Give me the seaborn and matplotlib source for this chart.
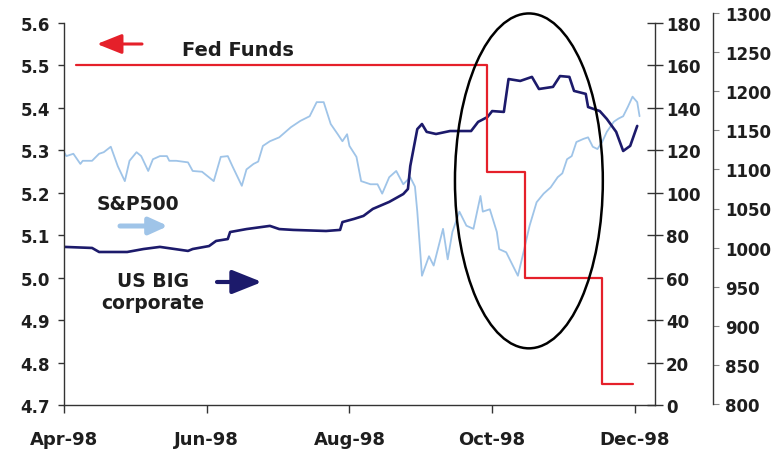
import numpy as np
import pandas as pd
import matplotlib
matplotlib.use("Agg")
import matplotlib.pyplot as plt
import matplotlib.dates as mdates
from matplotlib.patches import Ellipse
import seaborn as sns

# S&P 500 index level (outer right axis)
sp_dates = [
    "1998-04-01", "1998-04-02", "1998-04-05", "1998-04-08", "1998-04-09", "1998-04-13",
    "1998-04-16", "1998-04-18", "1998-04-21", "1998-04-24", "1998-04-27", "1998-04-29",
    "1998-05-02", "1998-05-04", "1998-05-07", "1998-05-09", "1998-05-12", "1998-05-15",
    "1998-05-16", "1998-05-19", "1998-05-24", "1998-05-26", "1998-05-30", "1998-06-04",
    "1998-06-07", "1998-06-10", "1998-06-12", "1998-06-16", "1998-06-18", "1998-06-21",
    "1998-06-23", "1998-06-25", "1998-06-28", "1998-07-02", "1998-07-07", "1998-07-11",
    "1998-07-15", "1998-07-18", "1998-07-21", "1998-07-24", "1998-07-27", "1998-07-29",
    "1998-07-31", "1998-08-01", "1998-08-04", "1998-08-06", "1998-08-10", "1998-08-13",
    "1998-08-15", "1998-08-18", "1998-08-21", "1998-08-24", "1998-08-27", "1998-08-29",
    "1998-08-30", "1998-09-01", "1998-09-04", "1998-09-06", "1998-09-10", "1998-09-12",
    "1998-09-14", "1998-09-17", "1998-09-20", "1998-09-23", "1998-09-26", "1998-09-27",
    "1998-09-30", "1998-10-03", "1998-10-04", "1998-10-07", "1998-10-12", "1998-10-14",
    "1998-10-17", "1998-10-20", "1998-10-23", "1998-10-26", "1998-10-29", "1998-10-31",
    "1998-11-02", "1998-11-04", "1998-11-06", "1998-11-09", "1998-11-11", "1998-11-13",
    "1998-11-15", "1998-11-17", "1998-11-19", "1998-11-22", "1998-11-24", "1998-11-26",
    "1998-11-28", "1998-11-30", "1998-12-02", "1998-12-03",
]
sp_values = [
    1122, 1117, 1120, 1107, 1111, 1111,
    1120, 1122, 1129, 1104, 1085, 1111,
    1122, 1117, 1098, 1113, 1117, 1117,
    1111, 1111, 1109, 1098, 1097, 1085,
    1116, 1117, 1104, 1079, 1100, 1107,
    1110, 1130, 1136, 1141, 1154, 1162,
    1168, 1186, 1186, 1158, 1145, 1136,
    1145, 1130, 1116, 1085, 1081, 1081,
    1069, 1090, 1098, 1081, 1090, 1078,
    1046, 964, 989, 977, 1024, 985,
    1020, 1046, 1028, 1024, 1066, 1046,
    1049, 1020, 998, 994, 964, 989,
    1028, 1058, 1069, 1077, 1090, 1095,
    1113, 1117, 1135, 1139, 1141, 1129,
    1126, 1135, 1148, 1161, 1165, 1168,
    1180, 1193, 1186, 1168,
]

# US BIG corporate spread (inner right axis)
corp_dates = [
    "1998-04-01", "1998-04-13", "1998-04-16", "1998-04-28", "1998-05-05", "1998-05-12",
    "1998-05-24", "1998-05-26", "1998-06-02", "1998-06-05", "1998-06-10", "1998-06-11",
    "1998-06-18", "1998-06-28", "1998-07-02", "1998-07-08", "1998-07-22", "1998-07-28",
    "1998-07-29", "1998-08-03", "1998-08-07", "1998-08-11", "1998-08-18", "1998-08-24",
    "1998-08-26", "1998-08-27", "1998-08-30", "1998-09-01", "1998-09-03", "1998-09-07",
    "1998-09-13", "1998-09-22", "1998-09-25", "1998-09-29", "1998-10-01", "1998-10-06",
    "1998-10-08", "1998-10-13", "1998-10-18", "1998-10-21", "1998-10-27", "1998-10-30",
    "1998-11-03", "1998-11-05", "1998-11-10", "1998-11-11", "1998-11-16", "1998-11-19",
    "1998-11-23", "1998-11-26", "1998-11-29", "1998-12-02",
]
corp_values = [
    74.5, 74.0, 72.1, 72.1, 73.5, 74.5,
    72.6, 73.5, 74.9, 77.3, 78.2, 81.5,
    82.9, 84.4, 82.9, 82.5, 82.0, 82.5,
    86.2, 87.7, 89.1, 92.4, 95.7, 99.4,
    101.8, 112.6, 130.0, 132.4, 128.7, 127.7,
    129.1, 129.1, 133.4, 135.7, 138.5, 138.1,
    153.6, 152.7, 154.6, 148.9, 149.9, 155.0,
    154.6, 148.0, 146.6, 140.4, 138.5, 134.8,
    128.7, 119.7, 122.1, 131.5,
]

# Fed Funds target rate (left axis)
fed_dates = ["1998-04-06", "1998-09-29", "1998-10-15", "1998-11-17", "1998-11-30"]
fed_rates = [5.50, 5.25, 5.00, 4.75, 4.75]

month_ticks = ["1998-04-01", "1998-06-01", "1998-08-01", "1998-10-01", "1998-12-01"]

RED = "#e5202a"
NAVY = "#1c1a6b"
LIGHT = "#9fc4e8"
TXT = "#1e1e1e"

sns.set_style("ticks")
plt.rcParams["font.family"] = ["DejaVu Sans"]
plt.rcParams["font.weight"] = "bold"

W, H = 783, 452
fig = plt.figure(figsize=(W / 100, H / 100), dpi=100, facecolor="white")


def fx(px):
    return px / W


def fy(py):
    return 1 - py / H


ax1 = fig.add_axes([fx(64), fy(406), fx(655) - fx(64), fy(24) - fy(406)])
ax3 = fig.add_axes([fx(64), fy(405), fx(655) - fx(64), fy(14) - fy(405)], sharex=ax1)
ax2 = ax1.twinx()

ax3.set_zorder(1)
ax2.set_zorder(2)
ax1.set_zorder(3)
for a in (ax1, ax2, ax3):
    a.patch.set_visible(False)

sp_df = pd.DataFrame({"date": pd.to_datetime(sp_dates), "value": sp_values})
corp_df = pd.DataFrame({"date": pd.to_datetime(corp_dates), "value": corp_values})
fed_df = pd.DataFrame({"date": pd.to_datetime(fed_dates), "value": fed_rates})

sns.lineplot(data=sp_df, x="date", y="value", ax=ax3, color=LIGHT, linewidth=1.3,
             estimator=None)
sns.lineplot(data=corp_df, x="date", y="value", ax=ax2, color=NAVY, linewidth=1.9,
             estimator=None)
sns.lineplot(data=fed_df, x="date", y="value", ax=ax1, color=RED, linewidth=1.6,
             estimator=None, drawstyle="steps-post")

for a in (ax1, ax2, ax3):
    a.set_xlabel("")
    a.set_ylabel("")

start = pd.Timestamp("1998-04-01")
ax1.set_xlim(start, start + pd.Timedelta(days=252.6))
ax1.set_xticks(pd.to_datetime(month_ticks))
ax1.xaxis.set_major_formatter(mdates.DateFormatter("%b-%y"))

# left axis: Fed Funds
ax1.set_ylim(4.7, 5.6)
ax1.set_yticks(np.round(np.arange(4.7, 5.65, 0.1), 1))
ax1.yaxis.set_major_formatter(plt.FormatStrFormatter("%.1f"))
ax1.spines["top"].set_visible(False)
ax1.spines["right"].set_visible(False)
for s in ("left", "bottom"):
    ax1.spines[s].set_color("#333333")
    ax1.spines[s].set_linewidth(1.0)
ax1.tick_params(axis="y", direction="out", length=4, width=1, pad=6,
                labelsize=12, colors="#333333", labelcolor=TXT)
ax1.tick_params(axis="x", direction="out", length=6, width=1, pad=12,
                labelsize=13, colors="#333333", labelcolor=TXT)

# inner right axis: corporate spread
ax2.set_ylim(0, 180)
ax2.set_yticks(np.arange(0, 181, 20))
for s in ("left", "top", "bottom"):
    ax2.spines[s].set_visible(False)
ax2.spines["right"].set_color("#333333")
ax2.spines["right"].set_linewidth(1.0)
ax2.tick_params(axis="y", direction="inout", length=12, width=1, pad=2,
                labelsize=12, colors="#333333", labelcolor=TXT)

# outer right axis: S&P 500
ax3.set_ylim(800, 1300)
ax3.set_yticks(np.arange(800, 1301, 50))
for s in ("left", "top", "bottom"):
    ax3.spines[s].set_visible(False)
ax3.spines["right"].set_position(("axes", (713 - 64) / (655 - 64)))
ax3.spines["right"].set_color("#333333")
ax3.spines["right"].set_linewidth(1.0)
ax3.yaxis.set_ticks_position("right")
ax3.yaxis.set_label_position("right")
ax3.tick_params(axis="y", left=False, right=True, labelleft=False, labelright=True,
                direction="out", length=4, width=0.8, pad=5,
                labelsize=12, colors="#888888", labelcolor=TXT)
ax3.tick_params(axis="x", bottom=False, labelbottom=False)

# highlight ellipse around the autumn rate cuts
center = mdates.date2num(start + pd.Timedelta(days=198.7))
ax1.add_patch(Ellipse((center, 5.228), width=63.2, height=0.789, fill=False,
                      edgecolor="black", linewidth=1.8, clip_on=False, zorder=6))

# series labels and arrows
fig.text(fx(238), fy(50), "Fed Funds", ha="center", va="center",
         fontsize=14, weight="bold", color=TXT)
fig.text(fx(137.5), fy(205), "S&P500", ha="center", va="center",
         fontsize=13.5, weight="bold", color=TXT)
fig.text(fx(153), fy(293), "US BIG\ncorporate", ha="center", va="center",
         fontsize=13.5, weight="bold", color=TXT, linespacing=1.2)


def arrow(x0, x1, y, color, lw, hl, hw):
    fig.add_artist(matplotlib.patches.FancyArrowPatch(
        (fx(x0), fy(y)), (fx(x1), fy(y)), transform=fig.transFigure,
        arrowstyle=f"-|>,head_length={hl},head_width={hw}", mutation_scale=20,
        color=color, linewidth=lw, shrinkA=0, shrinkB=0))


arrow(142, 97, 45, RED, 2.2, 0.75, 0.3)
arrow(120, 168, 227, LIGHT, 3.6, 0.55, 0.25)
arrow(217, 262, 283, NAVY, 3.0, 0.9, 0.36)

fig.savefig("out.png", dpi=100, facecolor="white")
